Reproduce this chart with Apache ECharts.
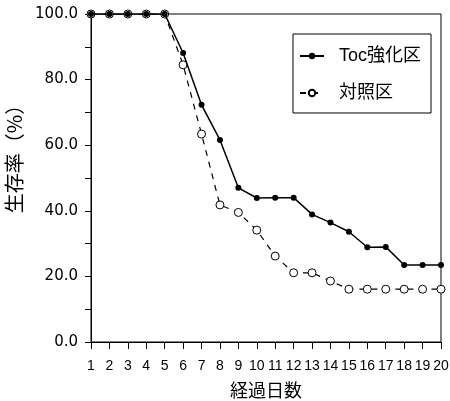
<!DOCTYPE html>
<html>
<head>
<meta charset="utf-8">
<script src="https://cdn.jsdelivr.net/npm/echarts@6/dist/echarts.min.js"></script>
<style>
html, body { margin: 0; padding: 0; background: #fff; }
#chart { width: 450px; height: 401px; }
</style>
</head>
<body>
<div id="chart"></div>
<script>
// 経過日数
var days = [1, 2, 3, 4, 5, 6, 7, 8, 9, 10, 11, 12, 13, 14, 15, 16, 17, 18, 19, 20];
// 生存率(%)
var tocArr = [100, 100, 100, 100, 100, 88.1, 72.3, 61.6, 47.0, 43.9, 44.0, 44.0, 38.9, 36.4, 33.6, 28.9, 29.0, 23.5, 23.5, 23.5];
var ctrlArr = [100, 100, 100, 100, 100, 84.5, 63.4, 41.8, 39.5, 34.1, 26.2, 21.1, 21.1, 18.6, 16.1, 16.1, 16.1, 16.1, 16.1, 16.1];
var seriesNames = ['Toc強化区', '対照区'];

function pairs(arr) {
    var out = [];
    for (var i = 0; i < days.length; i++) {
        out.push([days[i], arr[i]]);
    }
    return out;
}

var myChart = echarts.init(document.getElementById('chart'));
var option = {
    animation: false,
    backgroundColor: '#fff',
    grid: {
        left: 91, right: 9, top: 14, bottom: 59,
        outerBoundsMode: 'none',
        containLabel: false,
        show: true, borderColor: '#000', borderWidth: 1
    },
    legend: {
        orient: 'vertical',
        left: 293, top: 34,
        padding: [13, 10, 11, 6],
        itemGap: 19,
        itemWidth: 24,
        itemHeight: 8,
        borderColor: '#000',
        borderWidth: 1,
        textStyle: { color: '#000', fontSize: 18, fontFamily: 'Liberation Sans, Noto Sans CJK JP', padding: [0, 0, 0, 10] },
        data: seriesNames
    },
    xAxis: {
        type: 'value',
        min: 1, max: 20, interval: 1,
        name: '経過日数',
        nameLocation: 'middle',
        nameGap: 39,
        nameTextStyle: { color: '#000', fontSize: 18, fontFamily: 'Noto Sans CJK JP' },
        axisLine: { lineStyle: { color: '#000' } },
        axisTick: { inside: false, length: 7, lineStyle: { color: '#000' } },
        axisLabel: { color: '#000', fontSize: 14, margin: 17, fontFamily: 'Liberation Sans' },
        splitLine: { show: false }
    },
    yAxis: {
        type: 'value',
        min: 0, max: 100, interval: 20,
        name: '生存率（%）',
        nameLocation: 'middle',
        nameGap: 59,
        nameTextStyle: { color: '#000', fontSize: 20, fontFamily: 'Noto Sans CJK JP', padding: [0, 0, 0, 48] },
        axisLine: { show: true, lineStyle: { color: '#000' } },
        axisTick: { length: 6, lineStyle: { color: '#000' } },
        minorTick: { show: true, splitNumber: 2, length: 6, lineStyle: { color: '#000' } },
        axisLabel: {
            color: '#000', fontSize: 15, margin: 13, fontFamily: 'DejaVu Sans',
            formatter: function (v) { return v.toFixed(1); }
        },
        splitLine: { show: false }
    },
    series: []
};
option.series.push({
    name: seriesNames[0],
    type: 'line',
    symbol: 'circle',
    symbolSize: 6,
    itemStyle: { color: '#000' },
    lineStyle: { color: '#000', width: 1.5 },
    z: 3,
    data: pairs(tocArr)
});
option.series.push({
    name: seriesNames[1],
    type: 'line',
    symbol: 'circle',
    symbolSize: 8,
    itemStyle: { color: '#fff', borderColor: '#000', borderWidth: 1 },
    lineStyle: { color: '#000', width: 1.2, type: [6, 6] },
    z: 2,
    data: pairs(ctrlArr)
});
myChart.setOption(option);
</script>
</body>
</html>
